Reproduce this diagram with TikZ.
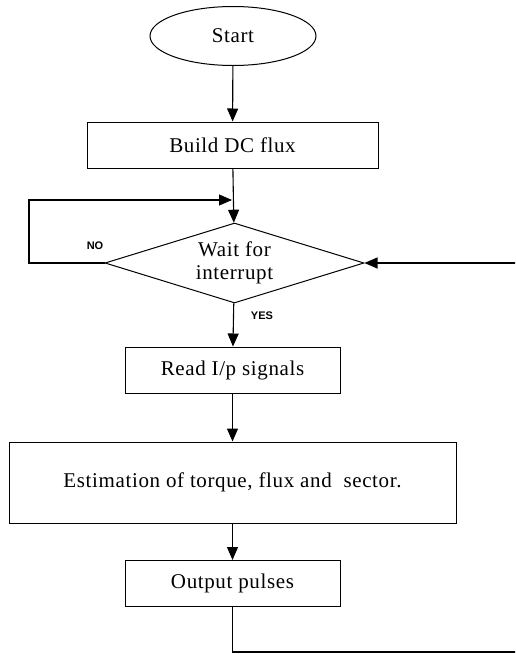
\documentclass[tikz,border=0pt]{standalone}
\usepackage{fontspec}
\setmainfont{Liberation Serif}[LetterSpace=3]
\setsansfont{Liberation Sans}
\usepackage{tikz}
\usetikzlibrary{shapes.geometric,arrows.meta}

\begin{document}
\begin{tikzpicture}[x=1pt,y=-1pt,font=\fontsize{21}{23}\selectfont,
  stepbox/.style={draw,line width=1pt,rectangle,inner sep=0pt,minimum height=46pt},
  arr/.style={line width=1.1pt,-{Triangle[length=13pt,width=11pt]}},
  tag/.style={font=\sffamily\bfseries\fontsize{11}{13}\selectfont}]
  \useasboundingbox (0,0) rectangle (515,654);
  \clip (0,0) rectangle (515,654);
  \node[draw,line width=1pt,ellipse,inner sep=0pt,minimum width=166pt,minimum height=59pt] (start) at (233,36) {Start};
  \node[stepbox,minimum width=291pt] (dc) at (232.5,145) {Build DC flux};
  \node[draw,line width=1pt,diamond,inner sep=0pt,shape aspect=3.24,minimum width=259pt,minimum height=80pt,align=center] (wait) at (234.5,263) {Wait for\\interrupt};
  \node[stepbox,minimum width=215pt] (read) at (232.5,370) {Read I/p signals};
  \node[stepbox,minimum width=447pt,minimum height=81pt] (est) at (232.5,482.5) {Estimation of torque, flux and\ \ sector.};
  \node[stepbox,minimum width=215pt] (out) at (232.5,583.5) {Output pulses};
  \node[tag] (no) at (95,246) {NO};
  \node[tag] (yes) at (262,316) {YES};
  \coordinate (lp) at (29,200);
  \coordinate (mid) at (232,200);
  \coordinate (rb) at (530,652);
  \coordinate (rt) at (530,263);
  \draw[arr] (start) -- (dc);
  \draw[arr] (dc) -- (wait);
  \draw[arr] (wait.west) -| (lp) -- (mid);
  \draw[arr] (wait) -- (read);
  \draw[arr] (read) -- (est);
  \draw[arr] (est) -- (out);
  \draw[arr] (out) |- (rb) -- (rt) -- (wait.east);
\end{tikzpicture}
\end{document}
